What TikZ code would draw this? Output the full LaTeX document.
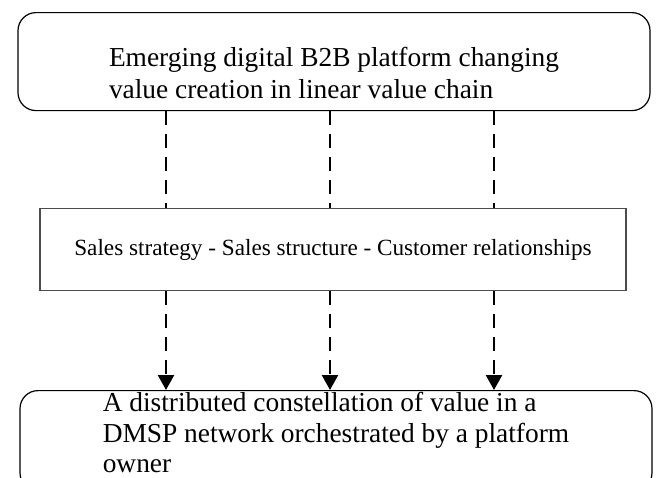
\documentclass[tikz,border=0pt]{standalone}
\usepackage{fontspec}
\setmainfont{Liberation Serif}
\usetikzlibrary{arrows.meta}
\begin{document}
\begin{tikzpicture}[x=1pt,y=1pt,
  bigbox/.style={draw=black, line width=1.2pt, rounded corners=18pt, align=left,
    font=\fontsize{27.4}{32}\selectfont, minimum width=632pt, inner xsep=0pt},
  midbox/.style={draw=black!70, line width=1.2pt, minimum width=586pt,
    minimum height=82pt, inner sep=0pt, font=\fontsize{23.2}{26}\selectfont},
  dashlink/.style={line width=2.4pt, dash pattern=on 14pt off 9pt},
  arrowlink/.style={dashlink, -{Triangle[width=16pt,length=15pt]}}]
\useasboundingbox (0,0) rectangle (667,-477);
\clip (0,0) rectangle (667,-477);
\node[bigbox, minimum height=98pt, anchor=north] (top) at (334,-12)
  {\rule{0pt}{43pt}Emerging digital B2B platform changing\\value creation in linear value chain};
\node[midbox, anchor=north] (mid) at (333,-208)
  {Sales strategy - Sales structure - Customer relationships};
\node[bigbox, anchor=north, inner ysep=2pt, font=\fontsize{27.4}{30.5}\selectfont] (bot) at (336,-390)
  {A distributed constellation of value in a\\DMSP network orchestrated by a platform\\owner\rule[-16pt]{0pt}{0pt}};
\coordinate (c1) at (166,0);
\coordinate (c2) at (330,0);
\coordinate (c3) at (494,0);
\foreach \c in {c1,c2,c3}{
  \draw[dashlink] (top.south -| \c) -- (mid.north -| \c);
  \draw[arrowlink] (mid.south -| \c) -- (bot.north -| \c);
}
\end{tikzpicture}
\end{document}
